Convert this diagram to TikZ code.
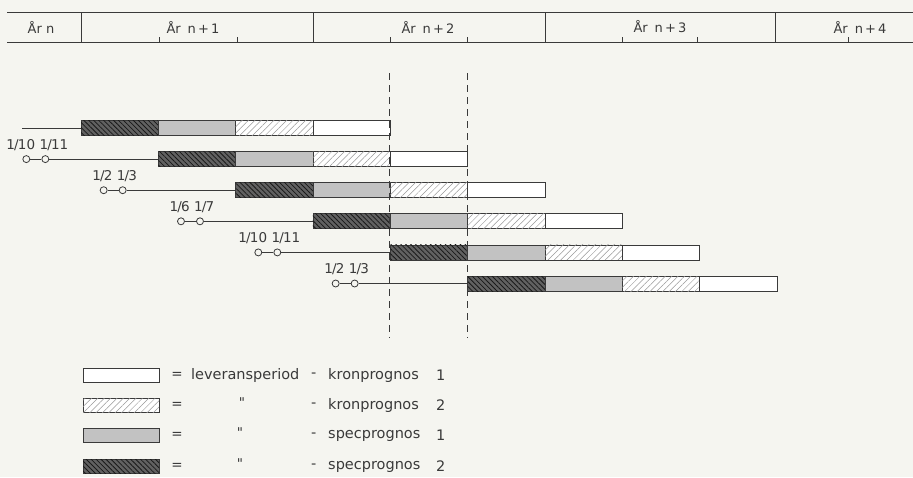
\documentclass[tikz,border=0pt]{standalone}
\usepackage{fontspec}
\setmainfont{DejaVu Sans}
\usetikzlibrary{patterns.meta}
\definecolor{paper}{HTML}{F5F5F0}
\definecolor{ink}{HTML}{3A3A3A}
\tikzset{
  seg/.style={draw=ink, line width=0.8pt, minimum width=77.33pt, minimum height=15pt, inner sep=0pt, outer sep=0pt},
  segD/.style={seg, fill=black!62, postaction={pattern={Lines[angle=-45,distance=3.5pt,line width=0.8pt]}, pattern color=black!90}},
  segM/.style={seg, fill=black!24},
  segH/.style={seg, fill=white, postaction={pattern={Lines[angle=45,distance=4.5pt,line width=0.5pt]}, pattern color=black!40}},
  segW/.style={seg, fill=white},
  lgD/.style={segD, minimum width=76pt, minimum height=14pt},
  lgM/.style={segM, minimum width=76pt, minimum height=14pt},
  lgH/.style={segH, minimum width=76pt, minimum height=14pt},
  lgW/.style={segW, minimum width=76pt, minimum height=14pt},
  ring/.style={circle, draw=ink, line width=0.8pt, fill=paper, minimum size=7pt, inner sep=0pt},
  conn/.style={draw=ink, line width=0.8pt},
  lbl/.style={font=\fontsize{13.5}{15}\selectfont, text=ink, inner sep=0pt},
  txt/.style={font=\fontsize{14.5}{16}\selectfont, text=ink, inner sep=0pt, anchor=west},
  yr/.style={font=\fontsize{13}{15}\selectfont, text=ink, inner sep=0pt},
  frame/.style={draw=ink, line width=0.9pt},
  guide/.style={draw=ink, line width=0.9pt, dash pattern=on 7pt off 5pt}
}
\newcommand{\frc}[2]{#1\kern-0.8pt/\kern-0.8pt#2}
\begin{document}
\begin{tikzpicture}[x=1pt, y=-1pt]
\fill[paper] (0,0) rectangle (913,477);
\useasboundingbox (0,0) rectangle (913,477);
% header
\draw[frame] (7,12) -- (913,12);
\draw[frame] (7,42) -- (913,42);
\foreach \x in {81,313,545,775} \draw[frame] (\x,12) -- (\x,42);
\foreach \x in {159,237,390,467,622,697,848} \draw[ink, line width=0.7pt] (\x,42) -- (\x,37);
\node[yr] (y0) at (41,27) {År n};
\node[yr] (y1) at (193,27) {År\hspace{7pt}n\,+\,1};
\node[yr] (y2) at (428,27) {År\hspace{7pt}n\,+\,2};
\node[yr] (y3) at (660,27) {År\hspace{7pt}n\,+\,3};
\node[yr] (y4) at (860,27) {År\hspace{7pt}n\,+\,4};
% bars
\foreach \k in {0,...,5} {
  \pgfmathsetmacro\yc{128+31.1*\k}
  \foreach \j/\st in {0/segD,1/segM,2/segH,3/segW} {
    \pgfmathsetmacro\xc{81+77.33*(\k+\j)+38.665}
    \node[\st] (r\k-\j) at (\xc,\yc) {};
  }
}
% guides
\coordinate (g1t) at (389.5,73); \coordinate (g1b) at (389.5,338);
\coordinate (g2t) at (467,73); \coordinate (g2b) at (467,338);
\draw[guide] (g1t) -- (g1b);
\draw[guide] (g2t) -- (g2b);
% row 0 lead line
\coordinate (r0-lead) at (22,128);
\draw[conn] (r0-lead) -- (r0-0.west);
% rows 1..5 with dates
\foreach \k/\ma/\mb in {1/10/11, 2/2/3, 3/6/7, 4/10/11, 5/2/3} {
  \pgfmathsetmacro\yc{128+31.1*\k}
  \pgfmathsetmacro\xs{81+77.33*\k}
  \node[ring] (r\k-a) at (\xs-132,\yc) {};
  \node[ring] (r\k-b) at (\xs-113,\yc) {};
  \draw[conn] (r\k-a) -- (r\k-b);
  \draw[conn] (r\k-b) -- (r\k-0.west);
  \node[lbl, anchor=base east] (r\k-la) at (\xs-123,\yc-10) {\frc{1}{\ma}};
  \node[lbl, anchor=base west] (r\k-lb) at (\xs-119,\yc-10) {\frc{1}{\mb}};
}
% legend
\node[lgW] (L1) at (121,375) {};
\node[lgH] (L2) at (121,405) {};
\node[lgM] (L3) at (121,435.5) {};
\node[lgD] (L4) at (121,466.5) {};
\foreach \i/\yy in {1/375,2/405,3/435.5,4/466.5} {
  \node[lbl] (E\i) at (177,\yy) {=};
}
\node[txt] (T1) at (191,375) {leveransperiod};
\node[lbl] (Q2) at (242,403) {\textquotedbl};
\node[lbl] (Q3) at (240,433) {\textquotedbl};
\node[lbl] (Q4) at (240,464) {\textquotedbl};
\foreach \i/\yy/\w/\n in {1/375/kronprognos/1,2/405/kronprognos/2,3/435.5/specprognos/1,4/466.5/specprognos/2} {
  \node[txt] (D\i) at (311,\yy) {-};
  \node[txt] (W\i) at (328,\yy) {\w};
  \node[txt] (N\i) at (436,\yy) {\n};
}
\end{tikzpicture}
\end{document}
